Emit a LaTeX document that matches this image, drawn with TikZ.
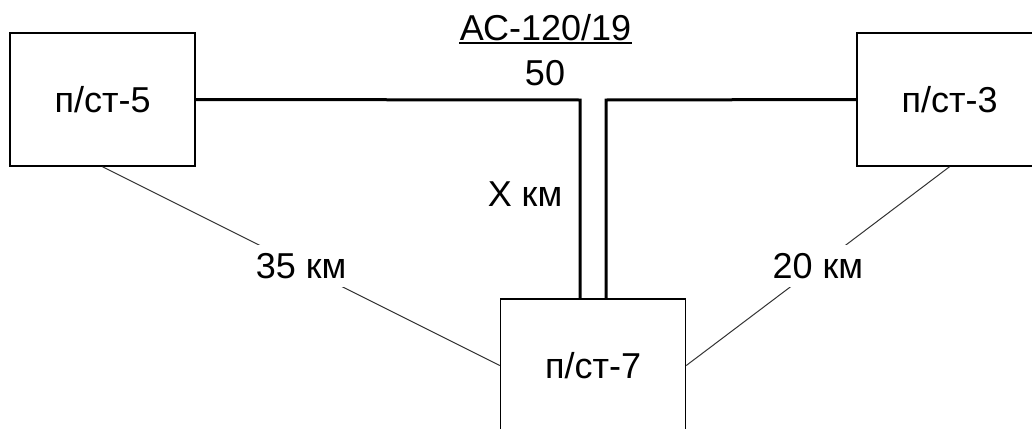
\documentclass[tikz,border=0pt]{standalone}
\usepackage{fontspec}
\setmainfont{Liberation Sans}
\usetikzlibrary{calc, positioning}

\begin{document}
\begin{tikzpicture}[x=0.5pt, y=-0.5pt,
    every node/.style={font=\fontsize{18}{22}\selectfont},
    pst/.style={draw, line width=0.75pt, minimum width=92.5pt, minimum height=66.5pt, inner sep=0pt},
    feeder/.style={line width=1.5pt},
    tie/.style={line width=0.5pt, draw=black!80},
    dist/.style={fill=white, inner sep=4pt}]
    \useasboundingbox (0,0) rectangle (1032,428);

    % Подстанции
    \node[pst] (ps5) at (102.5,99.5) {п/ст-5};
    \node[pst] (ps3) at (949.5,99.5) {п/ст-3};
    \node[pst] (ps7) at (593,365.5) {п/ст-7};

    % Отпайка АС-120/19
    \coordinate (jl) at (580,100);
    \coordinate (jr) at (606,100);
    \draw[feeder] (ps5.east) -- (jl) -- (jl |- ps7.north);
    \draw[feeder] (ps3.west) -- (jr) -- (jr |- ps7.north);

    \node[inner sep=0pt, anchor=base] (wire) at (545.5,40) {АС-120/19};
    \draw[line width=1pt] ([yshift=-1.5pt]wire.base west) -- ([yshift=-1.5pt]wire.base east);
    \node[anchor=base] (len) at (545,85) {50};
    \node (xkm) at (525,194) {X км};

    % Расстояния между подстанциями
    \draw[tie] (ps5.south) -- node[dist] (d35) {35 км} (ps7.west);
    \draw[tie] (ps7.east) -- node[dist] (d20) {20 км} (ps3.south);
\end{tikzpicture}
\end{document}
